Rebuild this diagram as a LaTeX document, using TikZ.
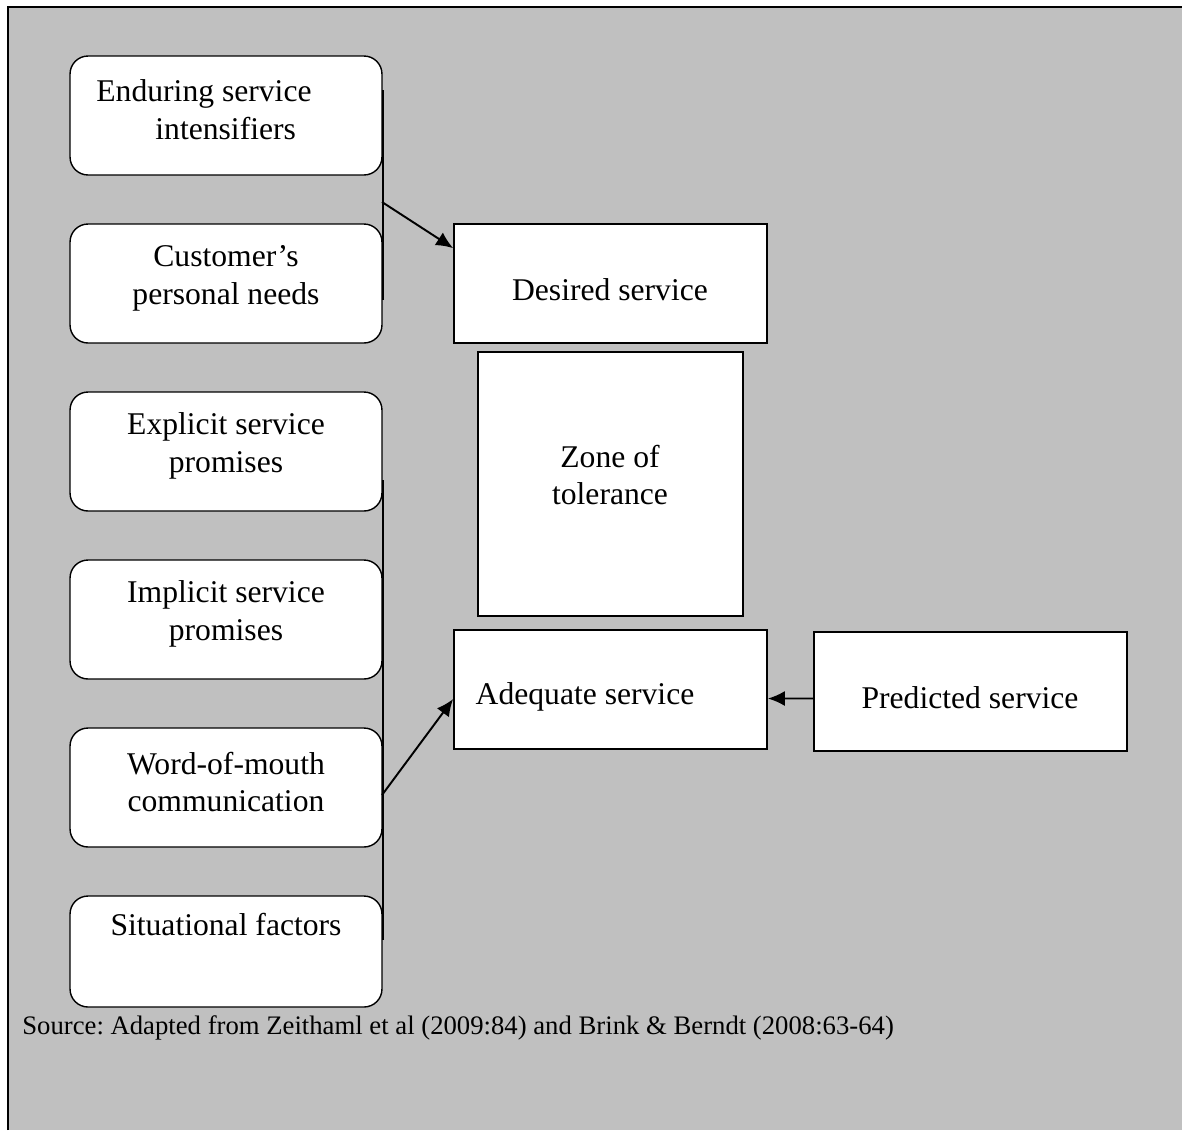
\documentclass[tikz,border=0pt]{standalone}
\usepackage{fontspec}
\setmainfont{Liberation Serif}
\usetikzlibrary{arrows.meta}
\definecolor{bggray}{RGB}{192,192,192}
\frenchspacing

\begin{document}
\begin{tikzpicture}[x=0.02cm,y=-0.02cm,
  font=\fontsize{18}{21.6}\selectfont,
  rbox/.style={draw,fill=white,rounded corners=0.36cm,line width=0.8pt,minimum width=6.24cm,minimum height=2.38cm},
  sbox/.style={draw,fill=white,line width=1pt,minimum width=6.26cm,minimum height=2.38cm},
  txt/.style={align=center,inner sep=0pt},
  link/.style={line width=1.1pt},
  arr/.style={-{Latex[length=0.34cm,width=0.3cm]},line width=1.1pt}]
  \useasboundingbox (0,0) rectangle (1182,1130);
  \fill[bggray] (8,7) rectangle (1182,1130);
  \draw[line width=1.2pt] (8,1130) -- (8,7) -- (1182,7);

  % rounded boxes on the left
  \foreach \name/\y in {enduring/115.5,needs/283.5,explicit/451.5,implicit/619.5,mouth/787.5}
    \node[rbox] (\name) at (226,\y) {};
  \node[rbox,minimum height=2.22cm] (situational) at (226,951.5) {};

  \node[txt,align=left] (enduringtxt) at (204,110) {Enduring service\\\hspace*{1.18cm}intensifiers};
  \node[txt] (needstxt) at (226,278) {Customer’s\\personal needs};
  \node[txt] (explicittxt) at (226,446) {Explicit service\\promises};
  \node[txt] (implicittxt) at (226,614) {Implicit service\\promises};
  \node[txt] (mouthtxt) at (226,782) {Word-of-mouth\\communication};
  \node[txt] (situationaltxt) at (226,924) {Situational factors};

  % boxes on the right
  \node[sbox] (desired) at (610.5,283.5) {};
  \node[sbox,minimum width=5.3cm,minimum height=5.28cm] (zone) at (610.5,484) {};
  \node[sbox] (adequate) at (610.5,689.5) {};
  \node[sbox] (predicted) at (970.5,691.5) {};

  \node[txt] (desiredtxt) at (610,290) {Desired service};
  \node[txt] (zonetxt) at (610,475) {Zone of\\tolerance};
  \node[txt] (adequatetxt) at (585,697) {Adequate service};
  \node[txt] (predictedtxt) at (970,698) {Predicted service};

  % connectors
  \draw[link] (enduring.east |- 0,90) -- (needs.east |- 0,300);
  \draw[link] (explicit.east |- 0,480) -- (situational.east |- 0,940);
  \coordinate (joinA) at (382,202);
  \coordinate (joinB) at (382,795);
  \draw[arr] (joinA) -- ([yshift=-0.5cm]desired.north west);
  \draw[arr] (joinB) -- ([yshift=-0.19cm]adequate.west);
  \draw[arr] ([yshift=-0.14cm]predicted.west) -- ([yshift=-0.18cm]adequate.east);

  \node[txt,anchor=west,font=\fontsize{15.2}{18.2}\selectfont] (source) at (22,1028)
    {Source: Adapted from Zeithaml et al (2009:84) and Brink \& Berndt (2008:63-64)};
\end{tikzpicture}
\end{document}
